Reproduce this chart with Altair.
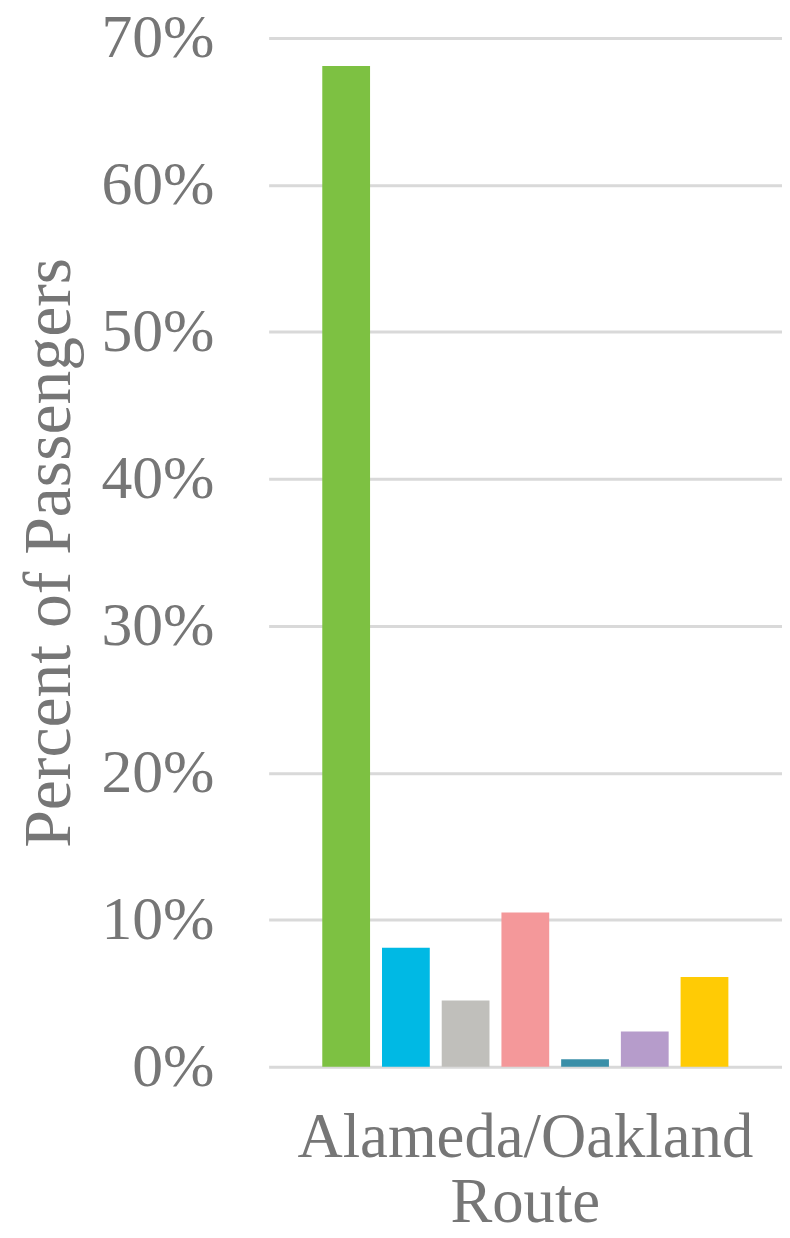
import altair as alt
import pandas as pd

route = "Alameda/Oakland Route"
series = ["Series 1", "Series 2", "Series 3", "Series 4", "Series 5", "Series 6", "Series 7"]
values = [0.681, 0.081, 0.045, 0.105, 0.005, 0.024, 0.061]
colors = ["#7dc142", "#00b9e4", "#c0bfbb", "#f4989a", "#3a8fa8", "#b69ccb", "#ffcb05"]
y_ticks = [0, 0.1, 0.2, 0.3, 0.4, 0.5, 0.6, 0.7]

df = pd.DataFrame({"route": [route] * len(series), "series": series, "value": values})

font = "Liberation Serif"
text_color = "#767676"

chart = (
    alt.Chart(df)
    .mark_bar()
    .encode(
        x=alt.X(
            "route:N",
            title=None,
            scale=alt.Scale(paddingInner=0, paddingOuter=0.114),
            axis=alt.Axis(
                labelExpr="split(datum.label, ' ')",
                labelFont=font,
                labelFontSize=63,
                labelLineHeight=66,
                labelLimit=0,
                labelColor=text_color,
                labelAngle=0,
                labelPadding=40,
                domain=False,
                ticks=False,
                grid=False,
            ),
        ),
        xOffset=alt.XOffset(
            "series:N",
            sort=series,
            scale=alt.Scale(paddingInner=0.2, paddingOuter=0.1),
        ),
        y=alt.Y(
            "value:Q",
            title="Percent of Passengers",
            scale=alt.Scale(domain=[0, 0.7], nice=False),
            axis=alt.Axis(
                values=y_ticks,
                format=".0%",
                labelFont=font,
                labelFontSize=62,
                labelColor=text_color,
                labelPadding=55,
                titleFont=font,
                titleFontSize=68,
                titleFontWeight="normal",
                titleColor=text_color,
                titlePadding=18,
                domain=False,
                ticks=False,
                grid=True,
                gridColor="#d9d9d9",
                gridWidth=3,
            ),
        ),
        color=alt.Color(
            "series:N",
            sort=series,
            scale=alt.Scale(domain=series, range=colors),
            legend=None,
        ),
    )
    .properties(
        width=516,
        height=1034,
        autosize=alt.AutoSizeParams(type="none"),
        padding={"left": 262, "top": 27, "right": 0, "bottom": 169},
    )
    .configure_view(stroke=None)
)

chart.save("out.html", embed_options={"renderer": "svg", "actions": False})
